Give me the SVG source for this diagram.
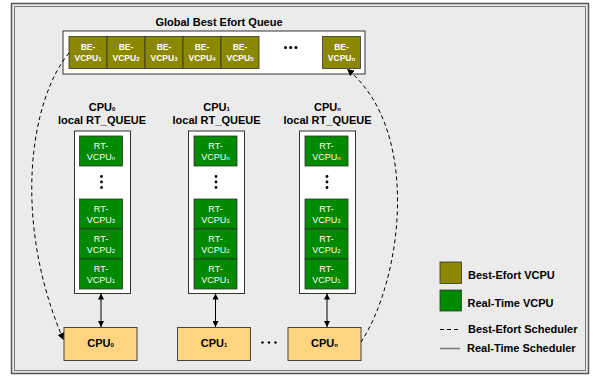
<svg xmlns="http://www.w3.org/2000/svg" width="600" height="376" viewBox="0 0 600 376">
<style>
text{font-family:"Liberation Sans",Arial,Helvetica,sans-serif;}
.t{font-weight:bold;font-size:11px;fill:#000;}
.be{fill:#8b8800;stroke:#333;stroke-width:0.8;}
.rt{fill:#008a00;stroke:#333;stroke-width:0.8;}
.q{fill:#fff;stroke:#333;stroke-width:1;}
.cpu{fill:#ffd480;stroke:#444;stroke-width:1;}
.bet{font-weight:bold;font-size:8.5px;fill:#fff;text-anchor:middle;}
.rtt{font-size:9px;fill:#fff;text-anchor:middle;}
.sub{font-size:6px;}
.ct{font-weight:bold;font-size:11px;fill:#000;text-anchor:middle;}
.dash{fill:none;stroke:#000;stroke-width:1;stroke-dasharray:4 3;}
.solid{fill:none;stroke:#000;stroke-width:1;}
</style>
<defs>
<marker id="ah" viewBox="0 0 10 10" refX="10" refY="5" markerWidth="6" markerHeight="6" orient="auto-start-reverse" markerUnits="userSpaceOnUse">
<path d="M0,0 L10,5 L0,10 z" fill="#000"/>
</marker>
<marker id="ahd" viewBox="0 0 10 10" refX="10" refY="5" markerWidth="7" markerHeight="7" orient="auto" markerUnits="userSpaceOnUse">
<path d="M0,0 L10,5 L0,10 z" fill="#000"/>
</marker>
</defs>
<g id="frame">
<rect x="11.5" y="3.5" width="577" height="370" fill="#ebebeb" stroke="#555" stroke-width="1.5"/>
<rect x="14.5" y="6.5" width="571" height="364" fill="none" stroke="#777" stroke-width="1"/>
</g>
<g id="global-queue">
<text class="t" x="219" y="26" text-anchor="middle" font-size="12">Global Best Efort Queue</text>
<rect class="q" x="63" y="31" width="302" height="43"/>
<rect class="be" x="69" y="36.5" width="38" height="32"/>
<text class="bet" x="88" y="50">BE-</text><text class="bet" x="88" y="61">VCPU<tspan class="sub">1</tspan></text>
<rect class="be" x="107" y="36.5" width="38" height="32"/>
<text class="bet" x="126" y="50">BE-</text><text class="bet" x="126" y="61">VCPU<tspan class="sub">2</tspan></text>
<rect class="be" x="145" y="36.5" width="38" height="32"/>
<text class="bet" x="164" y="50">BE-</text><text class="bet" x="164" y="61">VCPU<tspan class="sub">3</tspan></text>
<rect class="be" x="183" y="36.5" width="38" height="32"/>
<text class="bet" x="202" y="50">BE-</text><text class="bet" x="202" y="61">VCPU<tspan class="sub">4</tspan></text>
<rect class="be" x="221" y="36.5" width="38" height="32"/>
<text class="bet" x="240" y="50">BE-</text><text class="bet" x="240" y="61">VCPU<tspan class="sub">5</tspan></text>
<circle cx="285.5" cy="47.5" r="1.5"/><circle cx="290.7" cy="47.5" r="1.5"/><circle cx="296" cy="47.5" r="1.5"/>
<rect class="be" x="322.5" y="36.5" width="38" height="32"/>
<text class="bet" x="341.5" y="50">BE-</text><text class="bet" x="341.5" y="61">VCPU<tspan class="sub">n</tspan></text>
</g>
<g id="rtq0">
<text class="ct" x="102" y="111">CPU<tspan class="sub" font-size="8">0</tspan></text>
<text class="ct" x="102" y="124">local RT_QUEUE</text>
<rect class="q" x="74.5" y="131" width="56" height="162.5"/>
<rect class="rt" x="79.5" y="136" width="43" height="30"/>
<text class="rtt" x="101" y="149">RT-</text><text class="rtt" x="101" y="160">VCPU<tspan class="sub">n</tspan></text>
<circle cx="101.5" cy="176.5" r="1.4"/><circle cx="101.5" cy="182" r="1.4"/><circle cx="101.5" cy="187.5" r="1.4"/>
<rect class="rt" x="79.5" y="199" width="43" height="30"/>
<text class="rtt" x="101" y="212">RT-</text><text class="rtt" x="101" y="223">VCPU<tspan class="sub">3</tspan></text>
<rect class="rt" x="79.5" y="229" width="43" height="30"/>
<text class="rtt" x="101" y="242">RT-</text><text class="rtt" x="101" y="253">VCPU<tspan class="sub">2</tspan></text>
<rect class="rt" x="79.5" y="259" width="43" height="30"/>
<text class="rtt" x="101" y="272">RT-</text><text class="rtt" x="101" y="283">VCPU<tspan class="sub">1</tspan></text>
</g>
<g id="rtq1">
<text class="ct" x="216.5" y="111">CPU<tspan class="sub" font-size="8">1</tspan></text>
<text class="ct" x="216.5" y="124">local RT_QUEUE</text>
<rect class="q" x="188.5" y="131" width="56" height="162.5"/>
<rect class="rt" x="194" y="136" width="43" height="30"/>
<text class="rtt" x="215.5" y="149">RT-</text><text class="rtt" x="215.5" y="160">VCPU<tspan class="sub">n</tspan></text>
<circle cx="216" cy="176.5" r="1.4"/><circle cx="216" cy="182" r="1.4"/><circle cx="216" cy="187.5" r="1.4"/>
<rect class="rt" x="194" y="199" width="43" height="30"/>
<text class="rtt" x="215.5" y="212">RT-</text><text class="rtt" x="215.5" y="223">VCPU<tspan class="sub">3</tspan></text>
<rect class="rt" x="194" y="229" width="43" height="30"/>
<text class="rtt" x="215.5" y="242">RT-</text><text class="rtt" x="215.5" y="253">VCPU<tspan class="sub">2</tspan></text>
<rect class="rt" x="194" y="259" width="43" height="30"/>
<text class="rtt" x="215.5" y="272">RT-</text><text class="rtt" x="215.5" y="283">VCPU<tspan class="sub">1</tspan></text>
</g>
<g id="rtqn">
<text class="ct" x="327.5" y="111">CPU<tspan class="sub" font-size="8">n</tspan></text>
<text class="ct" x="327.5" y="124">local RT_QUEUE</text>
<rect class="q" x="299.5" y="131" width="56" height="162.5"/>
<rect class="rt" x="305" y="136" width="43" height="30"/>
<text class="rtt" x="326.5" y="149">RT-</text><text class="rtt" x="326.5" y="160">VCPU<tspan class="sub">n</tspan></text>
<circle cx="327" cy="176.5" r="1.4"/><circle cx="327" cy="182" r="1.4"/><circle cx="327" cy="187.5" r="1.4"/>
<rect class="rt" x="305" y="199" width="43" height="30"/>
<text class="rtt" x="326.5" y="212">RT-</text><text class="rtt" x="326.5" y="223">VCPU<tspan class="sub">3</tspan></text>
<rect class="rt" x="305" y="229" width="43" height="30"/>
<text class="rtt" x="326.5" y="242">RT-</text><text class="rtt" x="326.5" y="253">VCPU<tspan class="sub">2</tspan></text>
<rect class="rt" x="305" y="259" width="43" height="30"/>
<text class="rtt" x="326.5" y="272">RT-</text><text class="rtt" x="326.5" y="283">VCPU<tspan class="sub">1</tspan></text>
</g>
<g id="cpu0">
<rect class="cpu" x="64" y="327.5" width="73" height="33"/>
<text class="ct" x="100.5" y="347">CPU<tspan class="sub" font-size="8">0</tspan></text>
</g>
<g id="cpu1">
<rect class="cpu" x="177.5" y="327.5" width="73" height="33"/>
<text class="ct" x="214" y="347">CPU<tspan class="sub" font-size="8">1</tspan></text>
</g>
<g id="cpu-dots">
<circle cx="262.5" cy="342.5" r="1.2"/><circle cx="269" cy="342.5" r="1.2"/><circle cx="275.5" cy="342.5" r="1.2"/>
</g>
<g id="cpun">
<rect class="cpu" x="288" y="327.5" width="73" height="33"/>
<text class="ct" x="324.5" y="347">CPU<tspan class="sub" font-size="8">n</tspan></text>
</g>
<g id="connectors">
<line class="solid" x1="101" y1="293.5" x2="101" y2="327" marker-start="url(#ah)" marker-end="url(#ah)"/>
<line class="solid" x1="215.5" y1="293.5" x2="215.5" y2="327" marker-start="url(#ah)" marker-end="url(#ah)"/>
<line class="solid" x1="327" y1="293.5" x2="327" y2="327" marker-start="url(#ah)" marker-end="url(#ah)"/>
<path class="dash" d="M69,53 C30,100 12,220 63.5,340" marker-end="url(#ahd)"/>
<path class="dash" d="M361,342 C402,280 422,130 347,69" marker-end="url(#ahd)"/>
</g>
<g id="legend">
<rect class="be" x="440" y="262" width="21.5" height="21.5"/>
<text class="t" x="468" y="279">Best-Efort VCPU</text>
<rect class="rt" x="440" y="290" width="21.5" height="21"/>
<text class="t" x="467.5" y="306.5">Real-Time VCPU</text>
<line class="dash" x1="440" y1="329.5" x2="460" y2="329.5"/>
<text class="t" x="468" y="333">Best-Efort Scheduler</text>
<line x1="440" y1="348.5" x2="460" y2="348.5" stroke="#777" stroke-width="1.5"/>
<text class="t" x="467" y="352">Real-Time Scheduler</text>
</g>
</svg>
